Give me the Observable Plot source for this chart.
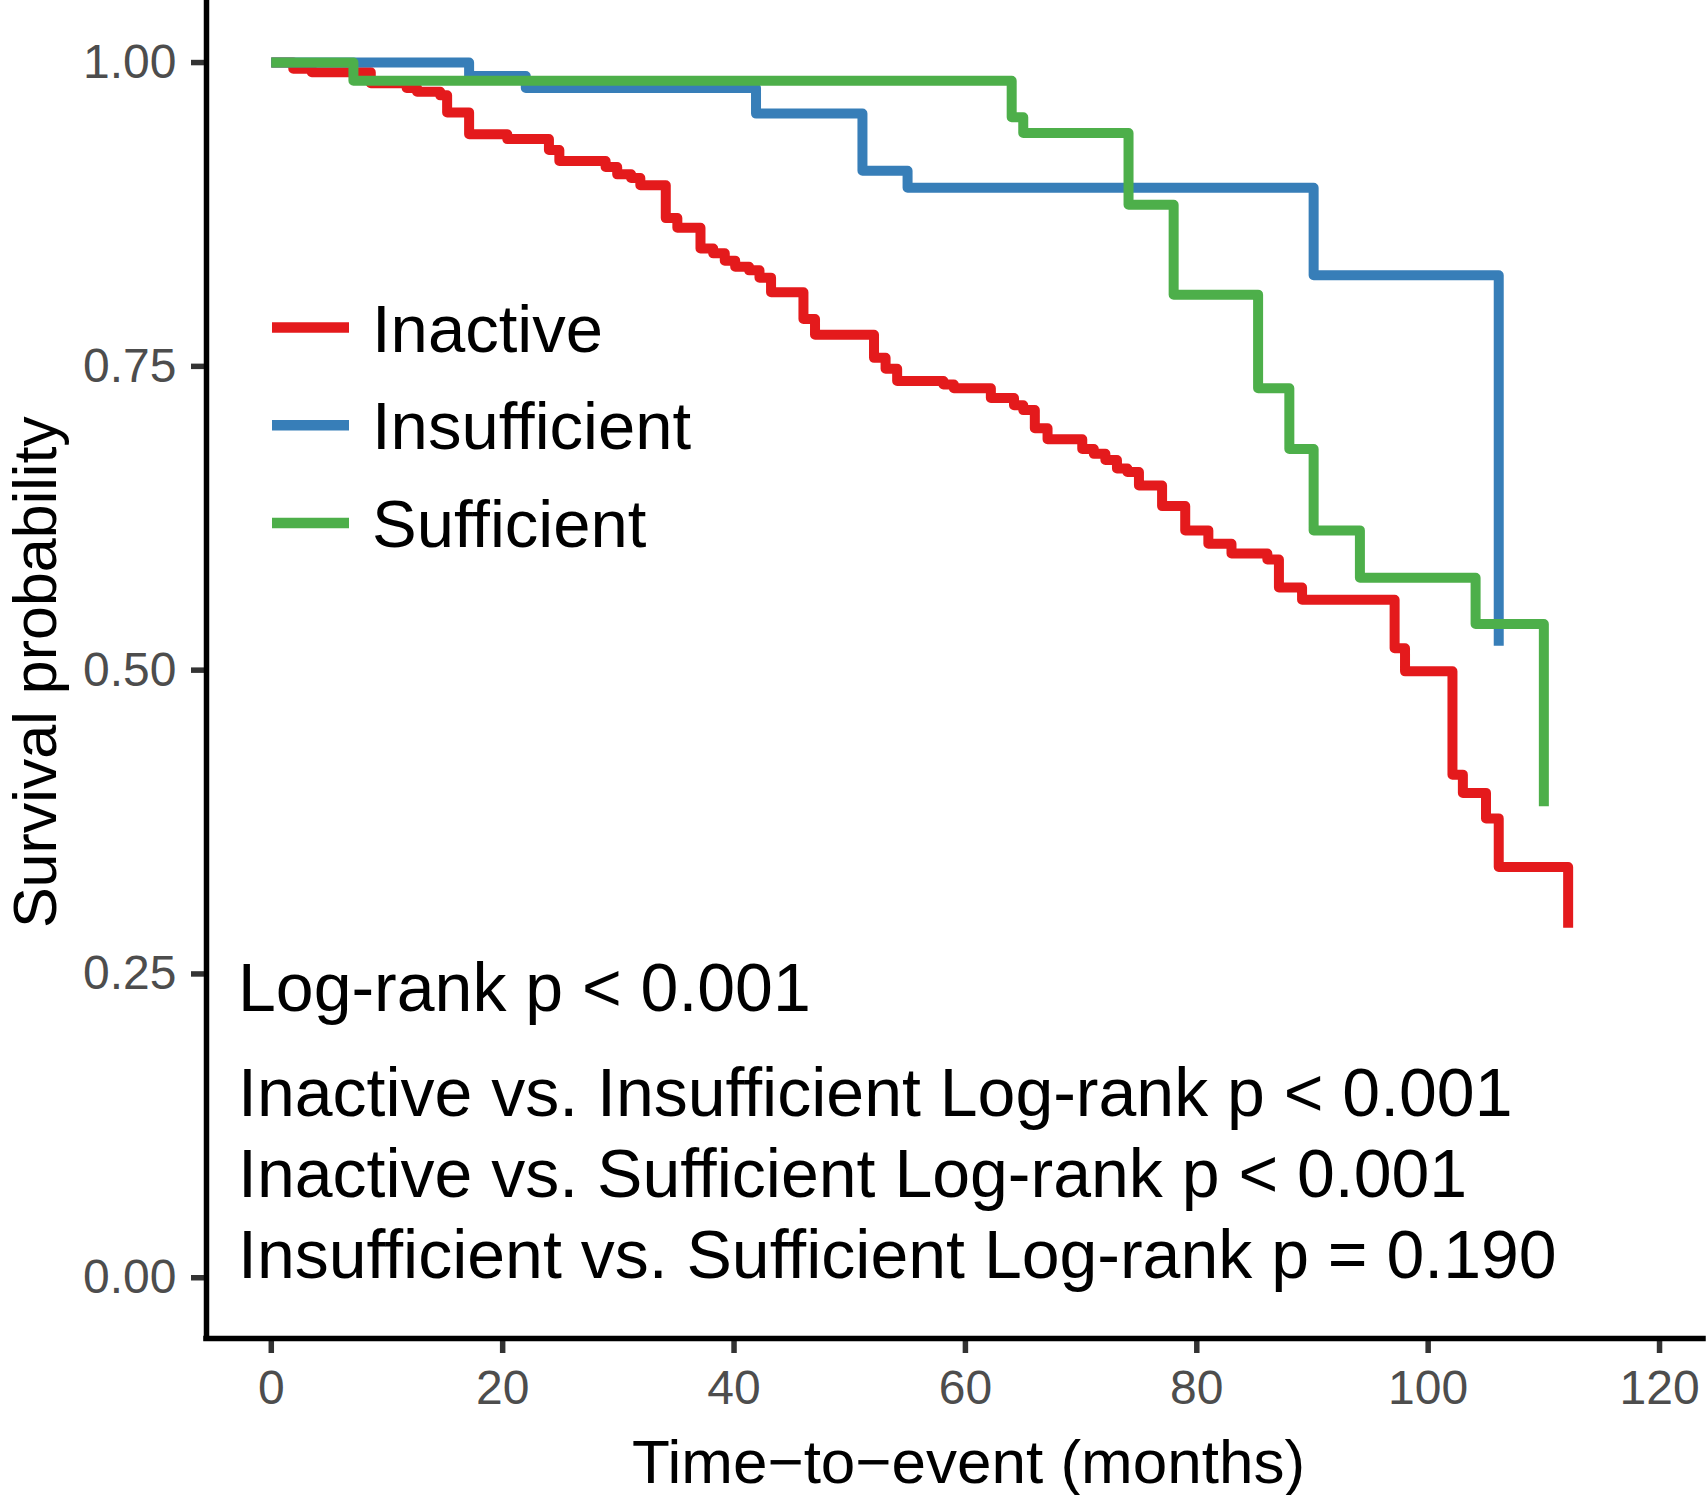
<!DOCTYPE html>
<html><head><meta charset="utf-8">
<script src="https://cdn.jsdelivr.net/npm/d3@7"></script>
<script src="https://cdn.jsdelivr.net/npm/@observablehq/plot@0.6"></script>
<style>html,body{margin:0;padding:0;background:#fff;} #chart{width:1706px;height:1495px;}</style>
</head><body><div id="chart"></div>
<script>
const groups = ["Inactive", "Insufficient", "Sufficient"];
const groupColors = ["#E41A1C", "#377EB8", "#4DAF4A"];

const inactiveTime = [0, 1.9, 3.5, 8.6, 11.7, 12.6, 14.6, 15.2, 17.1, 20.4, 24.0, 24.9, 28.9, 29.9, 31.1, 31.9, 34.1, 35.1, 37.1, 38.2, 39.2, 40.1, 41.3, 42.2, 43.2, 46.0, 47.0, 52.1, 53.1, 54.1, 58.1, 59.0, 62.2, 64.2, 65.0, 66.0, 67.1, 70.1, 71.1, 72.1, 73.1, 74.0, 75.0, 77.0, 79.0, 81.0, 83.0, 86.1, 87.1, 89.1, 97.1, 98.0, 102.1, 103.0, 105.0, 106.1, 112.1];
const inactiveSurv = [1.000, 0.995, 0.992, 0.983, 0.979, 0.976, 0.973, 0.959, 0.941, 0.937, 0.928, 0.919, 0.914, 0.908, 0.905, 0.899, 0.872, 0.864, 0.847, 0.843, 0.837, 0.832, 0.829, 0.823, 0.811, 0.789, 0.776, 0.757, 0.748, 0.738, 0.735, 0.732, 0.724, 0.718, 0.714, 0.699, 0.690, 0.682, 0.678, 0.673, 0.666, 0.663, 0.652, 0.635, 0.615, 0.604, 0.596, 0.591, 0.568, 0.558, 0.518, 0.499, 0.414, 0.399, 0.378, 0.338, 0.288];

const insufficientTime = [0, 17.1, 22.0, 41.9, 51.1, 55.0, 90.1, 106.1];
const insufficientSurv = [1.000, 0.989, 0.979, 0.958, 0.911, 0.897, 0.825, 0.520];

const sufficientTime = [0, 7.1, 64.0, 65.0, 74.1, 78.0, 85.3, 88.0, 90.1, 94.1, 104.1, 110.0];
const sufficientSurv = [1.000, 0.985, 0.955, 0.942, 0.883, 0.809, 0.732, 0.682, 0.615, 0.576, 0.538, 0.388];

const xTicks = [0, 20, 40, 60, 80, 100, 120];
const yTicks = [0, 0.25, 0.50, 0.75, 1.00];
const xLabel = "Time\u2212to\u2212event (months)";
const yLabel = "Survival probability";
const overallTest = "Log-rank p < 0.001";
const pairwiseTests = [
  "Inactive vs. Insufficient Log-rank p < 0.001",
  "Inactive vs. Sufficient Log-rank p < 0.001",
  "Insufficient vs. Sufficient Log-rank p = 0.190"
];

// build table
const series = [[inactiveTime, inactiveSurv], [insufficientTime, insufficientSurv], [sufficientTime, sufficientSurv]];
const rows = [];
series.forEach(([t, s], k) => t.forEach((v, i) => rows.push({group: groups[k], time: v, surv: s[i]})));

const W = 1706, H = 1495, mL = 206, mR = 3, mT = 1.3, mB = 157;
const xDomain = [-5.6, 123.8], yDomain = [-0.05, 1.05];
const font = "'Liberation Sans', Arial, Helvetica, sans-serif";
const textSize = 68;

const marks = [
  Plot.axisX({ticks: xTicks, tickSize: 15, tickPadding: 16, fontSize: 48, fill: "#4D4D4D", stroke: "#333333", strokeWidth: 5.5, label: null, tickFormat: d3.format("d")}),
  Plot.axisY({ticks: yTicks, tickSize: 15, tickPadding: 15, fontSize: 48, fill: "#4D4D4D", stroke: "#333333", strokeWidth: 5.5, label: null, tickFormat: d3.format(".2f")}),
  Plot.line(rows, {x: "time", y: "surv", z: "group", stroke: "group", curve: "step-after", strokeWidth: 10, strokeLinejoin: "round", strokeLinecap: "butt"}),
  Plot.ruleX([xDomain[0]], {stroke: "#000", strokeWidth: 5.5, strokeLinecap: "square"}),
  Plot.ruleY([yDomain[0]], {stroke: "#000", strokeWidth: 5.5, strokeLinecap: "square"}),
  Plot.text([yLabel], {frameAnchor: "left", dx: -150.5, dy: 2, rotate: -90, fontSize: 61, fill: "#000", textAnchor: "middle", lineAnchor: "bottom"}),
  Plot.text([xLabel], {frameAnchor: "bottom", dx: 13.5, dy: 144, fontSize: 62, fill: "#000", textAnchor: "middle", lineAnchor: "bottom"}),
  Plot.text([overallTest], {frameAnchor: "top-left", dx: 31.5, dy: 1010 - mT, fontSize: textSize, fill: "#000", textAnchor: "start", lineAnchor: "bottom"})
];
pairwiseTests.forEach((t, i) => {
  marks.push(Plot.text([t], {frameAnchor: "top-left", dx: 31.5, dy: 1115 + i * 81 - mT, fontSize: textSize, fill: "#000", textAnchor: "start", lineAnchor: "bottom"}));
});

const svg = Plot.plot({
  width: W, height: H,
  marginLeft: mL, marginRight: mR, marginTop: mT, marginBottom: mB,
  style: {fontFamily: font, background: "#fff", overflow: "visible"},
  x: {domain: xDomain},
  y: {domain: yDomain},
  color: {domain: groups, range: groupColors},
  marks
});

// legend inside the panel
const lg = d3.select(svg).append("g").attr("font-family", font).attr("text-anchor", "start");
groups.forEach((g, i) => {
  const y = 327.5 + i * 97.7;
  lg.append("line").attr("x1", 272).attr("x2", 349).attr("y1", y).attr("y2", y)
    .attr("stroke", groupColors[i]).attr("stroke-width", 10.5);
  lg.append("text").attr("x", 372).attr("y", y + 24).attr("font-size", 67).attr("fill", "#000")
    .attr("text-anchor", "start").text(g);
});

document.getElementById("chart").appendChild(svg);
</script>
</body></html>
